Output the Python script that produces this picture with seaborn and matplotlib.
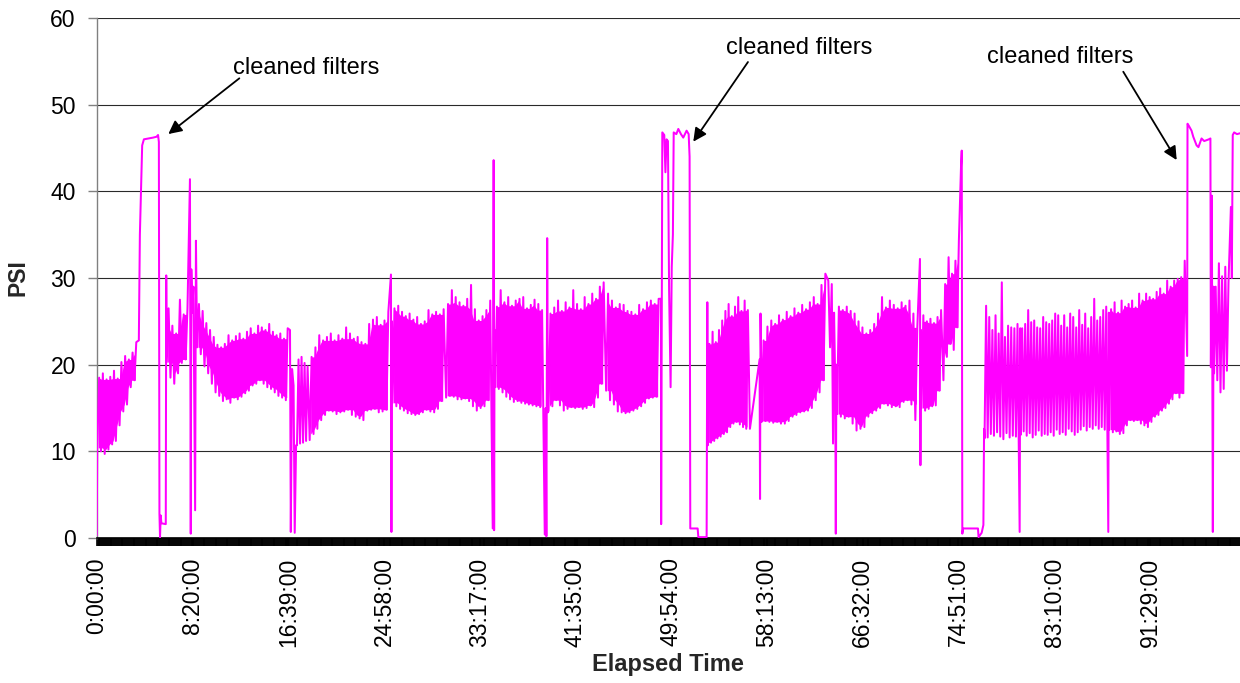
import matplotlib
matplotlib.use("Agg")
import numpy as np
import pandas as pd
import matplotlib.pyplot as plt
import seaborn as sns

# ---------------------------------------------------------------------------
# Axis labels and ticks
# ---------------------------------------------------------------------------
x_tick_labels = ["0:00:00", "8:20:00", "16:39:00", "24:58:00", "33:17:00",
                 "41:35:00", "49:54:00", "58:13:00", "66:32:00", "74:51:00",
                 "83:10:00", "91:29:00"]
y_ticks = [0, 10, 20, 30, 40, 50, 60]
x_end_hours = 99.31

# ---------------------------------------------------------------------------
# Pressure readings (PSI).  Single excursions are listed as (hour, psi)
# traces; stretches where the pump cycles are listed as successive
# trough / peak readings over a time window.
# ---------------------------------------------------------------------------
start_t = [0.0]
start_psi = [0.3]

band_a_window = (0.05, 3.60)
band_a_lo = [10.4, 10.0, 9.7, 10.2, 10.8, 11.2, 13.0, 14.6, 15.4, 17.4, 18.2]
band_a_hi = [18.5, 19.0, 18.3, 18.6, 19.3, 18.4, 20.3, 21.0, 20.6, 21.4, 22.6]

clean1_t = [3.66, 3.75, 3.95, 4.10, 4.50, 4.90, 5.20, 5.33, 5.40, 5.45, 5.50,
            5.56, 5.62, 6.00, 6.04]
clean1_psi = [22.8, 35.0, 45.3, 46.0, 46.1, 46.2, 46.3, 46.5, 45.7, 2.8, 0.1,
              2.6, 1.7, 1.6, 30.3]

band_b_window = (6.08, 8.05)
band_b_lo = [20.3, 18.5, 17.8, 19.0, 20.2, 20.6]
band_b_hi = [26.5, 24.5, 23.6, 27.5, 25.8, 26.5]

spikes_8h_t = [8.10, 8.17, 8.22, 8.30, 8.40, 8.55, 8.62, 8.68]
spikes_8h_psi = [41.4, 0.5, 31.0, 26.0, 29.0, 3.2, 34.3, 26.5]

band_c_window = (8.72, 16.75)
band_c_lo = [22.0, 21.2, 19.8, 19.0, 17.8, 16.8, 16.4, 15.8, 16.0, 15.6, 16.2,
             16.0, 16.3, 16.7, 17.0, 17.6, 17.8, 18.2, 17.8, 17.4, 17.2, 16.8,
             16.4, 16.2, 15.9]
band_c_hi = [27.0, 26.2, 24.8, 24.0, 23.2, 22.3, 22.0, 22.4, 23.4, 22.8, 23.3,
             23.6, 23.0, 23.8, 24.2, 23.6, 24.5, 24.3, 24.0, 24.7, 23.8, 23.4,
             23.6, 23.0, 24.2]

drops_17h_t = [16.79, 16.86, 16.97, 17.10, 17.20, 17.32]
drops_17h_psi = [24.0, 0.7, 19.5, 17.6, 0.6, 10.7]

band_d_window = (17.40, 18.45)
band_d_lo = [10.7, 10.9, 11.0, 11.2]
band_d_hi = [20.6, 20.9, 20.2, 19.8]

band_e_window = (18.50, 25.50)
band_e_lo = [11.3, 12.0, 12.6, 13.6, 14.2, 14.7, 14.6, 14.3, 14.5, 14.6, 14.8,
             14.2, 14.0, 13.8, 13.6, 14.7, 14.8, 14.9, 14.5, 14.6, 14.8]
band_e_hi = [20.9, 22.0, 23.4, 22.8, 23.2, 23.6, 22.8, 23.4, 23.0, 24.3, 23.6,
             23.0, 23.2, 22.6, 22.4, 24.7, 25.2, 25.5, 24.6, 25.1, 26.1]

spike_25h_t = [25.56, 25.60, 25.65]
spike_25h_psi = [30.4, 0.7, 25.0]

band_f_window = (25.70, 30.30)
band_f_lo = [15.6, 15.2, 14.9, 14.7, 14.4, 14.3, 14.2, 14.3, 14.5, 14.8, 14.6,
             14.5, 14.9, 15.8]
band_f_hi = [26.5, 26.8, 26.1, 25.6, 25.9, 25.2, 25.5, 24.7, 25.0, 26.3, 25.8,
             26.1, 25.8, 26.4]

band_g_window = (30.35, 34.35)
band_g_lo = [16.2, 16.4, 16.3, 16.0, 16.0, 16.1, 15.8, 15.2, 14.7, 15.0, 15.2,
             15.9]
band_g_hi = [27.0, 28.6, 27.8, 27.2, 26.8, 27.6, 29.2, 26.4, 25.1, 25.6, 26.3,
             27.4]

spike_34h_t = [34.40, 34.44, 34.48, 34.52, 34.56]
spike_34h_psi = [1.1, 20.0, 43.6, 0.9, 24.0]

band_h_window = (34.60, 38.85)
band_h_lo = [17.4, 17.2, 16.8, 16.3, 16.0, 15.7, 15.8, 15.6, 15.5, 15.4, 15.3,
             15.2, 15.1]
band_h_hi = [26.7, 28.6, 27.2, 27.8, 26.8, 27.4, 27.6, 27.8, 26.5, 26.9, 27.5,
             27.0, 26.3]

spike_39h_t = [38.92, 39.00, 39.06, 39.13, 39.20]
spike_39h_psi = [0.4, 15.0, 0.2, 34.6, 14.5]

band_i_window = (39.25, 44.20)
band_i_lo = [14.7, 15.2, 15.9, 15.3, 14.7, 14.9, 15.1, 15.0, 15.1, 14.9, 15.0,
             15.3, 15.1, 16.2, 17.8]
band_i_hi = [25.9, 26.6, 27.4, 26.2, 27.2, 26.6, 28.6, 27.0, 26.4, 27.8, 27.0,
             28.2, 27.6, 29.0, 29.5]

band_j_window = (44.25, 48.98)
band_j_lo = [17.0, 15.9, 15.4, 14.6, 14.5, 14.4, 14.5, 14.7, 14.9, 15.2, 15.6,
             16.1, 16.2, 16.3]
band_j_hi = [28.2, 27.4, 26.6, 27.0, 26.9, 26.2, 26.1, 25.8, 26.9, 26.4, 27.2,
             27.4, 27.0, 27.6]

clean2_t = [49.01, 49.03, 49.13, 49.30, 49.40, 49.50, 49.62, 49.72, 49.85,
            49.95, 50.05, 50.12, 50.35, 50.52, 50.75, 50.95, 51.10, 51.24,
            51.42, 51.50, 51.53, 51.56, 52.20, 52.26, 52.98, 53.04]
clean2_psi = [27.6, 1.6, 46.8, 46.5, 42.2, 46.0, 45.8, 28.6, 17.4, 31.3, 35.0,
              46.8, 46.6, 47.2, 46.6, 46.2, 46.6, 47.0, 46.6, 44.0, 22.0, 1.1,
              1.1, 0.1, 0.1, 27.2]

band_k_window = (53.08, 56.70)
band_k_lo = [10.7, 11.0, 11.2, 11.5, 11.7, 12.0, 12.2, 12.8, 13.2, 13.4, 13.1,
             12.8, 12.6]
band_k_hi = [22.4, 23.8, 22.6, 24.0, 25.1, 26.2, 27.0, 25.6, 26.7, 27.8, 26.2,
             27.4, 26.3]

gap_57h_t = [56.74, 57.58, 57.62, 57.66, 57.72]
gap_57h_psi = [12.6, 20.6, 4.5, 25.9, 20.0]

band_l_window = (57.76, 63.46)
band_l_lo = [13.4, 13.5, 13.4, 13.3, 13.4, 13.2, 13.2, 13.5, 14.0, 14.2, 14.5,
             14.6, 14.7, 15.0, 15.9, 16.8, 18.2]
band_l_hi = [22.8, 24.4, 25.1, 24.7, 25.7, 25.2, 26.1, 25.6, 26.5, 26.0, 26.9,
             26.4, 27.2, 27.8, 27.0, 29.2, 30.5]

drops_64h_t = [63.55, 63.70, 63.85, 63.96, 64.05, 64.15, 64.20, 64.25]
drops_64h_psi = [29.7, 22.0, 29.3, 10.9, 26.0, 18.0, 0.5, 20.0]

band_m_window = (64.30, 71.45)
band_m_lo = [14.3, 14.0, 13.8, 14.0, 13.2, 12.4, 12.6, 12.8, 14.0, 14.4, 14.7,
             15.0, 15.5, 15.3, 15.1, 15.2, 15.1, 15.7, 15.9, 15.4, 13.6]
band_m_hi = [26.7, 26.3, 26.7, 26.2, 25.9, 25.0, 24.3, 23.6, 24.0, 24.7, 25.9,
             27.8, 26.6, 27.4, 26.9, 26.5, 27.2, 26.8, 27.4, 25.9, 24.3]

spike_71h_t = [71.51, 71.55, 71.60]
spike_71h_psi = [32.2, 8.4, 24.0]

band_n_window = (71.65, 73.50)
band_n_lo = [15.0, 14.7, 14.9, 15.2, 15.3, 17.0]
band_n_hi = [25.7, 25.0, 25.3, 24.8, 25.5, 26.3]

band_o_window = (73.55, 75.04)
band_o_lo = [18.2, 20.9, 22.4, 21.7, 24.3]
band_o_hi = [29.3, 32.4, 30.5, 32.0, 34.3]

shutdown_t = [75.08, 75.14, 75.19, 75.26, 76.55, 76.60, 76.87, 77.02, 77.08]
shutdown_psi = [43.0, 44.7, 0.5, 1.1, 1.1, 0.1, 0.6, 1.5, 12.6]

band_p1_window = (77.12, 80.12)
band_p1_lo = [11.5, 11.6, 12.0, 11.8, 12.2, 11.7, 11.4, 12.1, 11.6, 11.8, 11.7]
band_p1_hi = [26.8, 25.5, 24.0, 25.7, 23.6, 29.5, 23.2, 24.5, 24.3, 24.2, 24.7]

spike_80h_t = [80.17, 80.22]
spike_80h_psi = [0.7, 24.2]

band_p2_window = (80.26, 87.82)
band_p2_lo = [11.9, 12.3, 11.8, 12.1, 11.6, 11.9, 12.4, 11.8, 12.0, 11.9, 12.2,
              11.8, 12.5, 12.0, 12.2, 11.9, 12.6, 12.3, 11.9, 12.2, 12.5, 12.9,
              12.4, 12.8, 12.6, 13.0, 12.6, 12.8, 12.5]
band_p2_hi = [24.2, 24.7, 26.3, 24.9, 25.1, 24.3, 24.2, 25.5, 24.9, 24.7, 25.1,
              25.9, 25.7, 24.5, 25.7, 24.3, 25.9, 25.5, 24.3, 26.3, 24.6, 25.9,
              24.2, 25.5, 27.6, 25.1, 25.5, 26.3, 26.7]

spike_88h_t = [87.87, 87.92]
spike_88h_psi = [0.7, 26.0]

band_q_window = (87.96, 94.66)
band_q_lo = [12.5, 12.2, 12.3, 12.0, 12.1, 13.0, 13.6, 13.5, 13.6, 13.2, 13.0,
             12.8, 13.4, 14.0, 14.2, 14.7, 15.0, 15.5, 16.0, 16.7, 16.2, 16.7]
band_q_hi = [26.4, 27.2, 26.0, 27.4, 26.7, 27.0, 27.4, 26.6, 28.2, 27.4, 28.2,
             27.8, 27.6, 28.4, 28.8, 28.2, 29.7, 29.0, 29.7, 29.9, 30.1, 32.0]

clean3_t = [94.72, 94.75, 94.85, 95.10, 95.25, 95.54, 95.70, 95.97, 96.20,
            96.41, 96.60, 96.74, 96.78, 96.86, 96.95, 97.02]
clean3_psi = [21.0, 47.8, 47.6, 47.0, 46.3, 45.3, 45.1, 46.1, 45.8, 45.9, 46.0,
              46.1, 19.7, 39.5, 0.7, 29.0]

band_r_window = (97.06, 98.45)
band_r_lo = [19.0, 18.2, 16.8, 17.2, 19.3]
band_r_hi = [29.0, 31.7, 30.2, 31.3, 29.5]

end_t = [98.52, 98.60, 98.68, 98.80, 99.05, 99.31]
end_psi = [38.2, 30.0, 46.5, 46.8, 46.6, 46.7]

# Annotations: text anchor (hour, baseline psi), arrow tail, arrow head
note_text = "cleaned filters"
note_text_pos = [(18.24, 53.54), (61.00, 55.84), (83.67, 54.81)]
note_tail = [(12.39, 53.04), (56.57, 54.92), (89.17, 53.80)]
note_head = [(6.22, 46.61), (51.82, 45.73), (93.81, 43.61)]

# ---------------------------------------------------------------------------
# Assemble the series in time order
# ---------------------------------------------------------------------------
# bands: (window, troughs, peaks, dense cycling shown with a solid core)
segments = [
    ("trace", start_t, start_psi),
    ("band", band_a_window, band_a_lo, band_a_hi, True),
    ("trace", clean1_t, clean1_psi),
    ("band", band_b_window, band_b_lo, band_b_hi, True),
    ("trace", spikes_8h_t, spikes_8h_psi),
    ("band", band_c_window, band_c_lo, band_c_hi, True),
    ("trace", drops_17h_t, drops_17h_psi),
    ("band", band_d_window, band_d_lo, band_d_hi, False),
    ("band", band_e_window, band_e_lo, band_e_hi, True),
    ("trace", spike_25h_t, spike_25h_psi),
    ("band", band_f_window, band_f_lo, band_f_hi, True),
    ("band", band_g_window, band_g_lo, band_g_hi, True),
    ("trace", spike_34h_t, spike_34h_psi),
    ("band", band_h_window, band_h_lo, band_h_hi, True),
    ("trace", spike_39h_t, spike_39h_psi),
    ("band", band_i_window, band_i_lo, band_i_hi, True),
    ("band", band_j_window, band_j_lo, band_j_hi, True),
    ("trace", clean2_t, clean2_psi),
    ("band", band_k_window, band_k_lo, band_k_hi, True),
    ("trace", gap_57h_t, gap_57h_psi),
    ("band", band_l_window, band_l_lo, band_l_hi, True),
    ("trace", drops_64h_t, drops_64h_psi),
    ("band", band_m_window, band_m_lo, band_m_hi, True),
    ("trace", spike_71h_t, spike_71h_psi),
    ("band", band_n_window, band_n_lo, band_n_hi, True),
    ("band", band_o_window, band_o_lo, band_o_hi, True),
    ("trace", shutdown_t, shutdown_psi),
    ("band", band_p1_window, band_p1_lo, band_p1_hi, False),
    ("trace", spike_80h_t, spike_80h_psi),
    ("band", band_p2_window, band_p2_lo, band_p2_hi, False),
    ("trace", spike_88h_t, spike_88h_psi),
    ("band", band_q_window, band_q_lo, band_q_hi, True),
    ("trace", clean3_t, clean3_psi),
    ("band", band_r_window, band_r_lo, band_r_hi, False),
    ("trace", end_t, end_psi),
]

hours, psi = [], []
cores = []  # overplotted core of fast-cycling stretches
for seg in segments:
    if seg[0] == "trace":
        hours.extend(seg[1])
        psi.extend(seg[2])
        continue
    (t0, t1), lo, hi, dense = seg[1], seg[2], seg[3], seg[4]
    assert len(lo) == len(hi)
    n = len(lo)
    dt = (t1 - t0) / (2 * n)
    for i in range(n):
        hours += [t0 + 2 * i * dt, t0 + (2 * i + 1) * dt]
        psi += [lo[i], hi[i]]
    if dense:
        # the solid part is what every neighbouring cycle covers
        lo_p = np.pad(np.asarray(lo, float), 1, mode="edge")
        hi_p = np.pad(np.asarray(hi, float), 1, mode="edge")
        core_lo = np.maximum(np.maximum(lo_p[:-2], lo_p[1:-1]), lo_p[2:])
        core_hi = np.minimum(np.minimum(hi_p[:-2], hi_p[1:-1]), hi_p[2:])
        mid = [t0 + (2 * i + 0.5) * dt for i in range(n)]
        cores.append((mid, core_lo, core_hi))

df = pd.DataFrame({"Elapsed Time": hours, "PSI": psi})


def to_hours(label):
    h, m, s = (int(p) for p in label.split(":"))
    return h + m / 60 + s / 3600


x_tick_pos = [to_hours(s) for s in x_tick_labels]

# ---------------------------------------------------------------------------
# Drawing
# ---------------------------------------------------------------------------
sns.set_style("white")
plt.rcParams["font.family"] = ["Liberation Sans", "DejaVu Sans"]

W, H = 1240, 683
fig = plt.figure(figsize=(W / 100, H / 100), dpi=100)
ax = fig.add_axes([96.7 / W, 1 - 538 / H, (W - 96.7) / W, 520 / H])

magenta = "#FF00FF"
for mid, lo, hi in cores:
    ax.fill_between(mid, lo, hi, color=magenta, lw=0, zorder=2)

sns.lineplot(data=df, x="Elapsed Time", y="PSI", estimator=None, sort=False,
             color=magenta, lw=1.45, ax=ax, zorder=3)

ax.set_xlim(0, x_end_hours)
ax.set_ylim(y_ticks[0], y_ticks[-1])

ax.set_yticks(y_ticks)
ax.set_xticks(x_tick_pos)
ax.set_xticklabels(x_tick_labels, rotation=90)
ax.set_xticks(np.arange(0, x_end_hours, 0.08), minor=True)

ax.tick_params(axis="y", which="major", direction="out", length=6.5,
               width=1.0, color="#808080", pad=8.5, labelsize=16.5,
               labelcolor="black", left=True)
ax.tick_params(axis="x", which="both", direction="out", length=6.0,
               width=1.2, color="black", bottom=True)
ax.tick_params(axis="x", which="major", pad=8, labelsize=16.5,
               labelcolor="black")

ax.grid(axis="y", color="#2a2a2a", lw=0.8)
ax.grid(axis="x", visible=False)
ax.set_axisbelow(True)

for side in ("top", "right"):
    ax.spines[side].set_visible(False)
ax.spines["left"].set_color("#808080")
ax.spines["left"].set_linewidth(1.0)
ax.spines["bottom"].set_color("black")
ax.spines["bottom"].set_linewidth(1.2)

ax.set_xlabel("Elapsed Time", fontsize=17, fontweight="bold")
ax.set_ylabel("PSI", fontsize=16.5, fontweight="bold")
ax.xaxis.set_label_coords((668 - 96.7) / (W - 96.7), (538 - 665) / 520)
ax.xaxis.label.set_verticalalignment("center")
ax.yaxis.set_label_coords((18 - 96.7) / (W - 96.7), 0.5)
ax.yaxis.label.set_verticalalignment("center")

for (tx, ty), tail, head in zip(note_text_pos, note_tail, note_head):
    ax.text(tx, ty, note_text, ha="center", va="baseline", fontsize=17,
            color="black", zorder=5)
    ax.annotate("", xy=head, xytext=tail,
                arrowprops=dict(arrowstyle="-|>", color="black", lw=1.3,
                                mutation_scale=20, shrinkA=0, shrinkB=0),
                zorder=5, annotation_clip=False)

fig.savefig("out.png", dpi=100)
